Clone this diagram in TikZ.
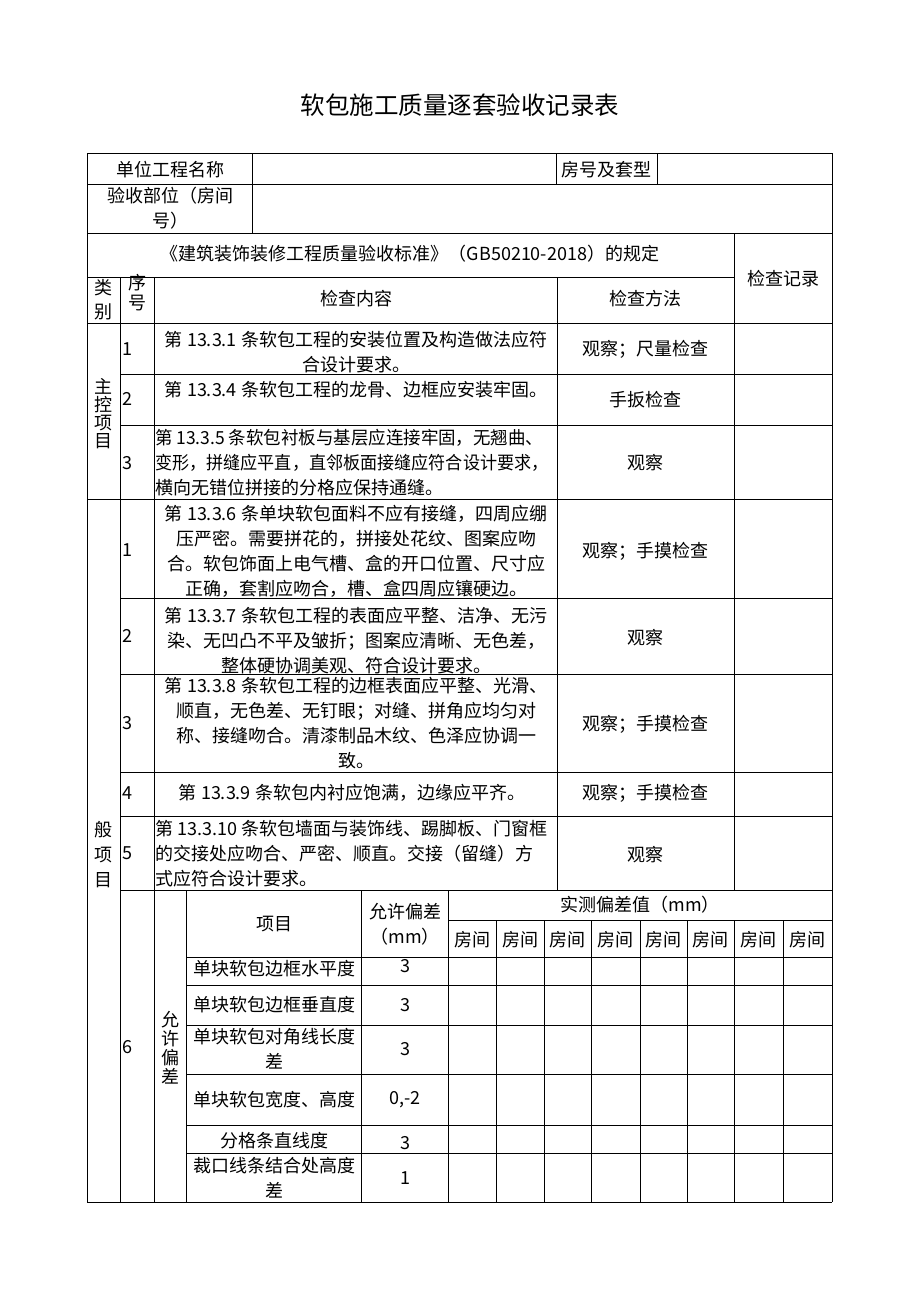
\documentclass[tikz,border=0pt]{standalone}
\usepackage{fontspec}
\usepackage{graphicx}
\setmainfont{Noto Sans CJK SC}
\newcommand\bodyfs{\fontsize{18}{25}\selectfont}
\newcommand\titlefs{\fontsize{24.5}{28}\selectfont}
\begin{document}
\begin{tikzpicture}[x=1pt,y=-1pt,
  grid/.style={line width=1pt,black},
  txt/.style={font=\bodyfs,inner sep=0pt,align=center},
  ltxt/.style={font=\bodyfs,inner sep=0pt,align=left},
  num/.style={font=\bodyfs,inner sep=0pt,anchor=west},
  vt/.style={inner sep=0pt,align=center,font=\fontsize{18}{#1}\selectfont},
  ttl/.style={font=\titlefs,inner sep=0pt}]
\useasboundingbox (0,0) rectangle (920,1301);
\fill[white] (0,0) rectangle (920,1301);

% title
\node[ttl] (title) at (460,105) {软包施工质量逐套验收记录表};

% horizontal lines
\draw[grid] (87,153) -- (832,153);
\draw[grid] (87,184) -- (832,184);
\draw[grid] (87,233) -- (832,233);
\draw[grid] (87,277) -- (734,277);
\draw[grid] (87,323) -- (832,323);
\draw[grid] (120,374) -- (832,374);
\draw[grid] (120,425) -- (832,425);
\draw[grid] (87,499) -- (832,499);
\draw[grid] (120,598) -- (832,598);
\draw[grid] (120,674) -- (832,674);
\draw[grid] (120,772) -- (832,772);
\draw[grid] (120,816) -- (832,816);
\draw[grid] (120,890) -- (832,890);
\draw[grid] (448,920) -- (832,920);
\foreach \yy in {957,985,1025,1074,1125,1153} \draw[grid] (186,\yy) -- (832,\yy);
\draw[grid] (87,1202) -- (832,1202);

% vertical lines
\draw[grid] (87,153) -- (87,1202);
\draw[grid] (832,153) -- (832,1202);
\draw[grid] (252,153) -- (252,233);
\draw[grid] (556,153) -- (556,184);
\draw[grid] (657,153) -- (657,184);
\draw[grid] (734,233) -- (734,890);
\draw[grid] (120,277) -- (120,1202);
\draw[grid] (154,277) -- (154,1202);
\draw[grid] (557,277) -- (557,890);
\draw[grid] (186,890) -- (186,1202);
\draw[grid] (361,890) -- (361,1202);
\draw[grid] (448,890) -- (448,1202);
\foreach \xx in {496,544,591,640,687,734,783} \draw[grid] (\xx,920) -- (\xx,1202);

% header texts
\node[txt] (h1) at (170,170) {单位工程名称};
\node[txt] (h2) at (606,170) {房号及套型};
\node[txt] (h3) at (170,208) {验收部位（房间\\号）};
\node[txt] (h4) at (410,254) {《建筑装饰装修工程质量验收标准》（GB50210-2018）的规定};
\node[txt] (h5) at (783,279) {检查记录};
\node[vt=24] (h6) at (103,300) {类\\别};
\node[vt=20] (h7) at (137,293) {序\\号};
\node[txt] (h8) at (356,299) {检查内容};
\node[txt] (h9) at (645,299) {检查方法};

% category labels
\node[vt=18] (c1) at (103,414) {主\\控\\项\\目};
\node[vt=25] (c2) at (103,855) {般\\项\\目};

% main control items
\node[num] (m1n) at (122,349) {1};
\node[txt] (m1) at (356,352) {第 13.3.1 条软包工程的安装位置及构造做法应符\\合设计要求。};
\node[txt] (m1m) at (645,349) {观察；尺量检查};
\node[num] (m2n) at (122,399) {2};
\node[txt] (m2) at (356,390) {第 13.3.4 条软包工程的龙骨、边框应安装牢固。};
\node[txt] (m2m) at (645,400) {手扳检查};
\node[num] (m3n) at (122,463) {3};
\node[ltxt,anchor=west] (m3) at (155,463) {\scalebox{0.97}[1]{第 13.3.5 条软包衬板与基层应连接牢固，无翘曲、}\\\scalebox{0.95}[1]{变形，拼缝应平直，直邻板面接缝应符合设计要求，}\\横向无错位拼接的分格应保持通缝。};
\node[txt] (m3m) at (645,463) {观察};

% general items
\node[num] (g1n) at (122,550) {1};
\node[txt] (g1) at (356,551) {第 13.3.6 条单块软包面料不应有接缝，四周应绷\\压严密。需要拼花的，拼接处花纹、图案应吻\\合。软包饰面上电气槽、盒的开口位置、尺寸应\\正确，套割应吻合，槽、盒四周应镶硬边。};
\node[txt] (g1m) at (645,551) {观察；手摸检查};
\node[num] (g2n) at (122,636) {2};
\node[txt] (g2) at (356,641) {第 13.3.7 条软包工程的表面应平整、洁净、无污\\染、无凹凸不平及皱折；图案应清晰、无色差，\\整体硬协调美观、符合设计要求。};
\node[txt] (g2m) at (645,638) {观察};
\node[num] (g3n) at (122,723) {3};
\node[txt] (g3) at (356,723) {第 13.3.8 条软包工程的边框表面应平整、光滑、\\顺直，无色差、无钉眼；对缝、拼角应均匀对\\称、接缝吻合。清漆制品木纹、色泽应协调一\\致。};
\node[txt] (g3m) at (645,724) {观察；手摸检查};
\node[num] (g4n) at (122,793) {4};
\node[txt] (g4) at (352,793) {第 13.3.9 条软包内衬应饱满，边缘应平齐。};
\node[txt] (g4m) at (645,793) {观察；手摸检查};
\node[num] (g5n) at (122,853) {5};
\node[ltxt,anchor=west] (g5) at (155,854) {第 13.3.10 条软包墙面与装饰线、踢脚板、门窗框\\的交接处应吻合、严密、顺直。交接（留缝）方\\式应符合设计要求。};
\node[txt] (g5m) at (645,855) {观察};

% item 6 subtable
\node[num] (g6n) at (122,1047) {6};
\node[vt=19] (g6c) at (170,1048) {允\\许\\偏\\差};
\node[txt] (sh1) at (274,924) {项目};
\node[txt] (sh2) at (405,924) {允许偏差\\（mm）};
\node[txt] (sh3) at (640,905) {实测偏差值（mm）};
\foreach \xx [count=\i] in {472,520,567.5,615.5,663.5,710.5,758.5,807.5}
  \node[txt] (room\i) at (\xx,940) {房间};

\node[txt] (r1) at (274,969) {单块软包边框水平度};
\node[txt] (r1v) at (405,966) {3};
\node[txt] (r2) at (274,1005) {单块软包边框垂直度};
\node[txt] (r2v) at (405,1005) {3};
\node[txt] (r3) at (274,1049) {单块软包对角线长度\\差};
\node[txt] (r3v) at (405,1049) {3};
\node[txt] (r4) at (274,1100) {单块软包宽度、高度};
\node[txt] (r4v) at (405,1100) {0,-2};
\node[txt] (r5) at (274,1141) {分格条直线度};
\node[txt] (r5v) at (405,1143) {3};
\node[txt] (r6) at (274,1178) {裁口线条结合处高度\\差};
\node[txt] (r6v) at (405,1178) {1};
\end{tikzpicture}
\end{document}
